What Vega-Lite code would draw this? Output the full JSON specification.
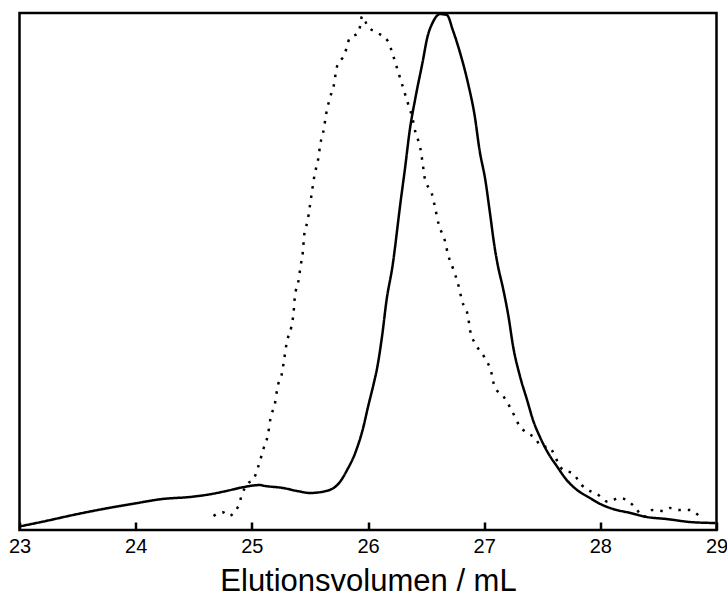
{
  "$schema": "https://vega.github.io/schema/vega-lite/v6.json",
  "width": 697,
  "height": 517,
  "autosize": {"type": "none"},
  "padding": {"left": 19.5, "top": 13, "right": 10.5, "bottom": 78},
  "config": {
    "view": {"stroke": "black", "strokeWidth": 2.5},
    "font": "Liberation Sans"
  },
  "data": {"values": [
      {"s": "A", "v": 23.00, "a": 0.68}, {"s": "A", "v": 23.20, "a": 1.61}, {"s": "A", "v": 23.49, "a": 3.04}, {"s": "A", "v": 23.78, "a": 4.31},
      {"s": "A", "v": 24.00, "a": 5.16}, {"s": "A", "v": 24.21, "a": 5.94}, {"s": "A", "v": 24.49, "a": 6.44}, {"s": "A", "v": 24.64, "a": 6.91},
      {"s": "A", "v": 24.78, "a": 7.54}, {"s": "A", "v": 24.92, "a": 8.26}, {"s": "A", "v": 25.07, "a": 8.70}, {"s": "A", "v": 25.10, "a": 8.57},
      {"s": "A", "v": 25.27, "a": 8.12}, {"s": "A", "v": 25.40, "a": 7.50}, {"s": "A", "v": 25.50, "a": 7.16}, {"s": "A", "v": 25.65, "a": 7.60},
      {"s": "A", "v": 25.76, "a": 9.34}, {"s": "A", "v": 25.82, "a": 11.6}, {"s": "A", "v": 25.89, "a": 14.9}, {"s": "A", "v": 25.96, "a": 19.9},
      {"s": "A", "v": 26.00, "a": 23.8}, {"s": "A", "v": 26.05, "a": 28.4}, {"s": "A", "v": 26.08, "a": 31.5}, {"s": "A", "v": 26.12, "a": 37.3},
      {"s": "A", "v": 26.16, "a": 44.5}, {"s": "A", "v": 26.21, "a": 50.9}, {"s": "A", "v": 26.28, "a": 63.4}, {"s": "A", "v": 26.32, "a": 70.2},
      {"s": "A", "v": 26.36, "a": 77.4}, {"s": "A", "v": 26.41, "a": 83.8}, {"s": "A", "v": 26.47, "a": 90.5}, {"s": "A", "v": 26.51, "a": 95.2},
      {"s": "A", "v": 26.56, "a": 98.3}, {"s": "A", "v": 26.62, "a": 99.8}, {"s": "A", "v": 26.68, "a": 99.6}, {"s": "A", "v": 26.73, "a": 96.7},
      {"s": "A", "v": 26.79, "a": 92.5}, {"s": "A", "v": 26.86, "a": 86.5}, {"s": "A", "v": 26.92, "a": 79.9}, {"s": "A", "v": 26.96, "a": 73.5},
      {"s": "A", "v": 27.01, "a": 67.7}, {"s": "A", "v": 27.05, "a": 61.3}, {"s": "A", "v": 27.09, "a": 54.7}, {"s": "A", "v": 27.12, "a": 50.9},
      {"s": "A", "v": 27.16, "a": 47.0}, {"s": "A", "v": 27.21, "a": 41.2}, {"s": "A", "v": 27.25, "a": 35.4}, {"s": "A", "v": 27.31, "a": 29.6},
      {"s": "A", "v": 27.37, "a": 25.1}, {"s": "A", "v": 27.42, "a": 21.3}, {"s": "A", "v": 27.48, "a": 18.0}, {"s": "A", "v": 27.55, "a": 14.9},
      {"s": "A", "v": 27.63, "a": 12.2}, {"s": "A", "v": 27.71, "a": 9.67}, {"s": "A", "v": 27.80, "a": 7.74}, {"s": "A", "v": 27.91, "a": 6.19},
      {"s": "A", "v": 28.00, "a": 5.03}, {"s": "A", "v": 28.11, "a": 4.06}, {"s": "A", "v": 28.26, "a": 3.29}, {"s": "A", "v": 28.40, "a": 2.51},
      {"s": "A", "v": 28.57, "a": 2.13}, {"s": "A", "v": 28.77, "a": 1.55}, {"s": "A", "v": 28.99, "a": 1.35},
      {"s": "B", "v": 24.67, "a": 2.71}, {"s": "B", "v": 24.75, "a": 3.42}, {"s": "B", "v": 24.80, "a": 2.71}, {"s": "B", "v": 24.88, "a": 4.45},
      {"s": "B", "v": 24.92, "a": 7.16}, {"s": "B", "v": 24.97, "a": 9.09}, {"s": "B", "v": 25.01, "a": 9.67}, {"s": "B", "v": 25.06, "a": 12.6},
      {"s": "B", "v": 25.10, "a": 15.7}, {"s": "B", "v": 25.14, "a": 18.6}, {"s": "B", "v": 25.16, "a": 21.5}, {"s": "B", "v": 25.20, "a": 24.6},
      {"s": "B", "v": 25.22, "a": 27.5}, {"s": "B", "v": 25.26, "a": 30.4}, {"s": "B", "v": 25.28, "a": 33.3}, {"s": "B", "v": 25.30, "a": 36.2},
      {"s": "B", "v": 25.34, "a": 39.3}, {"s": "B", "v": 25.36, "a": 42.2}, {"s": "B", "v": 25.37, "a": 45.1}, {"s": "B", "v": 25.40, "a": 48.0},
      {"s": "B", "v": 25.42, "a": 51.1}, {"s": "B", "v": 25.44, "a": 54.0}, {"s": "B", "v": 25.45, "a": 56.9}, {"s": "B", "v": 25.48, "a": 59.8},
      {"s": "B", "v": 25.50, "a": 62.7}, {"s": "B", "v": 25.52, "a": 65.8}, {"s": "B", "v": 25.54, "a": 68.7}, {"s": "B", "v": 25.57, "a": 71.6},
      {"s": "B", "v": 25.59, "a": 74.7}, {"s": "B", "v": 25.62, "a": 77.6}, {"s": "B", "v": 25.64, "a": 80.5}, {"s": "B", "v": 25.67, "a": 83.4},
      {"s": "B", "v": 25.71, "a": 86.5}, {"s": "B", "v": 25.73, "a": 89.4}, {"s": "B", "v": 25.80, "a": 92.1}, {"s": "B", "v": 25.84, "a": 95.0},
      {"s": "B", "v": 25.92, "a": 96.3}, {"s": "B", "v": 25.95, "a": 99.4}, {"s": "B", "v": 26.00, "a": 97.3}, {"s": "B", "v": 26.07, "a": 96.3},
      {"s": "B", "v": 26.17, "a": 94.6}, {"s": "B", "v": 26.22, "a": 91.5}, {"s": "B", "v": 26.26, "a": 88.6}, {"s": "B", "v": 26.30, "a": 85.7},
      {"s": "B", "v": 26.34, "a": 82.8}, {"s": "B", "v": 26.38, "a": 79.9}, {"s": "B", "v": 26.41, "a": 76.8}, {"s": "B", "v": 26.45, "a": 73.9},
      {"s": "B", "v": 26.47, "a": 71.0}, {"s": "B", "v": 26.49, "a": 67.9}, {"s": "B", "v": 26.55, "a": 65.0}, {"s": "B", "v": 26.58, "a": 62.1},
      {"s": "B", "v": 26.61, "a": 59.0}, {"s": "B", "v": 26.66, "a": 56.1}, {"s": "B", "v": 26.69, "a": 53.2}, {"s": "B", "v": 26.73, "a": 50.7},
      {"s": "B", "v": 26.78, "a": 47.2}, {"s": "B", "v": 26.81, "a": 44.3}, {"s": "B", "v": 26.86, "a": 41.4}, {"s": "B", "v": 26.88, "a": 38.5},
      {"s": "B", "v": 26.93, "a": 35.8}, {"s": "B", "v": 27.00, "a": 33.5}, {"s": "B", "v": 27.06, "a": 30.6}, {"s": "B", "v": 27.09, "a": 27.7},
      {"s": "B", "v": 27.17, "a": 25.7}, {"s": "B", "v": 27.24, "a": 23.0}, {"s": "B", "v": 27.30, "a": 20.3}, {"s": "B", "v": 27.38, "a": 18.6},
      {"s": "B", "v": 27.43, "a": 18.0}, {"s": "B", "v": 27.50, "a": 16.1}, {"s": "B", "v": 27.55, "a": 16.1}, {"s": "B", "v": 27.67, "a": 11.8},
      {"s": "B", "v": 27.77, "a": 10.8}, {"s": "B", "v": 27.84, "a": 8.70}, {"s": "B", "v": 27.93, "a": 7.35}, {"s": "B", "v": 27.97, "a": 6.96},
      {"s": "B", "v": 28.07, "a": 5.42}, {"s": "B", "v": 28.16, "a": 6.19}, {"s": "B", "v": 28.24, "a": 5.61}, {"s": "B", "v": 28.31, "a": 4.06},
      {"s": "B", "v": 28.37, "a": 2.51}, {"s": "B", "v": 28.45, "a": 3.87}, {"s": "B", "v": 28.55, "a": 3.68}, {"s": "B", "v": 28.60, "a": 4.26},
      {"s": "B", "v": 28.68, "a": 3.87}, {"s": "B", "v": 28.77, "a": 3.87}, {"s": "B", "v": 28.85, "a": 2.71}
  ]},
  "mark": {"type": "line", "color": "black", "strokeWidth": 2.5, "interpolate": "monotone", "strokeCap": "butt"},
  "encoding": {
    "x": {
      "field": "v", "type": "quantitative",
      "scale": {"domain": [23, 29], "nice": false, "zero": false},
      "axis": {
        "values": [23, 23.5, 24, 24.5, 25, 25.5, 26, 26.5, 27, 27.5, 28, 28.5, 29],
        "format": "d",
        "labelOpacity": {"condition": {"test": "datum.value % 1 === 0", "value": 1}, "value": 0},
        "domain": false,
        "offset": -8,
        "ticks": true, "tickSize": 8, "tickColor": "black", "tickWidth": 2.5,
        "grid": false,
        "labelPadding": 6, "labelFontSize": 20, "labelColor": "black", "labelFlush": false,
        "title": "Elutionsvolumen / mL", "titleColor": "black", "titleFontSize": 31, "titleFontWeight": "normal", "titlePadding": 10
      }
    },
    "y": {
      "field": "a", "type": "quantitative",
      "scale": {"domain": [0, 100], "nice": false},
      "axis": null
    },
    "strokeDash": {
      "field": "s", "type": "nominal",
      "scale": {"domain": ["A", "B"], "range": [[1, 0], [2.5, 7]]},
      "legend": null
    }
  }
}
